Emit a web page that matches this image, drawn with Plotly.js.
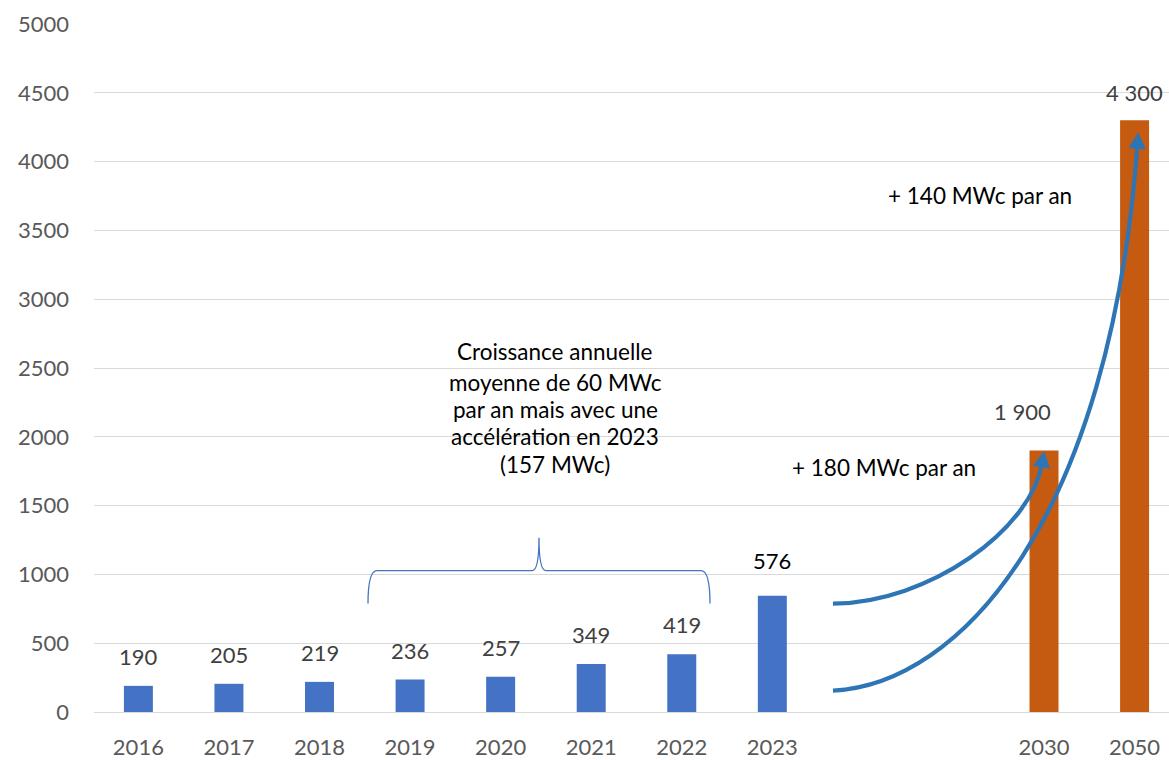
<!DOCTYPE html>
<html>
<head>
<meta charset="utf-8">
<script src="https://cdn.plot.ly/plotly-3.0.1.min.js"></script>
<style>html,body{margin:0;padding:0;background:#fff;}#chart{width:1169px;height:760px;}</style>
</head>
<body>
<div id="chart"></div>
<script>
// ---- data ----
const historicYears = ['2016','2017','2018','2019','2020','2021','2022','2023'];
const historicValues = [190, 205, 219, 236, 257, 349, 419, 845];
const historicLabels = ['190','205','219','236','257','349','419','576'];
const gapSlots = [' ', '  '];
const targetYears = ['2030','2050'];
const targetValues = [1900, 4300];
const targetLabels = ['1 900','4 300'];
const yTicks = [0,500,1000,1500,2000,2500,3000,3500,4000,4500,5000];
const noteLines = ['Croissance annuelle','moyenne de 60 MWc','par an mais avec une','accélération en 2023','(157 MWc)'];
const growth2030 = '+ 180 MWc par an';
const growth2050 = '+ 140 MWc par an';

// ---- layout geometry ----
const M = {l:94, r:0, t:24, b:47.5};
const W = 1169 - M.l - M.r, H = 760 - M.t - M.b;
const XR = [-0.49, 11.38], YR = [0, 5000];
const allCats = historicYears.concat(gapSlots, targetYears);
const FONT = 'Lato, "Open Sans", sans-serif';

// screen pixel -> paper
function P(X, Y){ return [(X - M.l) / W, (M.t + H - Y) / H]; }
function ps(X, Y){ const p = P(X, Y); return p[0].toFixed(5) + ',' + p[1].toFixed(5); }
// data (category index, value) -> screen pixel
function D(xi, v){ return [M.l + (xi - XR[0]) / (XR[1] - XR[0]) * W, M.t + H - (v - YR[0]) / (YR[1] - YR[0]) * H]; }

const traces = [
  {type:'bar', x: historicYears, y: historicValues, width:0.32, marker:{color:'#4472C4'}, hoverinfo:'skip'},
  {type:'bar', x: targetYears, y: targetValues, width:0.32, marker:{color:'#C55A11'}, hoverinfo:'skip'}
];

const annotations = [];
const shapes = [];

// data labels (category axis annotations take the category's serial number)
const histShift = [14,14,14,14,14,14,14,20];
historicYears.forEach((c, i) => {
  annotations.push({x: allCats.indexOf(c), y: historicValues[i], xref:'x', yref:'y', text: historicLabels[i], showarrow:false,
    yanchor:'bottom', yshift: histShift[i], font:{family:FONT, size:22, color: i === 7 ? '#000000' : '#404040'}});
});
const tgtShift = [[-22, 24], [0, 12]];
targetYears.forEach((c, i) => {
  annotations.push({x: allCats.indexOf(c), y: targetValues[i], xref:'x', yref:'y', text: targetLabels[i], showarrow:false,
    yanchor:'bottom', xshift: tgtShift[i][0], yshift: tgtShift[i][1], font:{family:FONT, size:22, color:'#404040'}});
});

// white box behind the 2030 label (hides the gridline)
[[976, 392, 1089, 442]].forEach(b => {
  const a = P(b[0], b[1]), c = P(b[2], b[3]);
  shapes.push({type:'rect', xref:'paper', yref:'paper', x0:a[0], y0:a[1], x1:c[0], y1:c[1], fillcolor:'#ffffff', line:{width:0}, layer:'between'});
});

// note text lines
const NOTE = 22.5;
const noteY = [352, 383, 410, 437, 465];
noteLines.forEach((t, i) => {
  const p = P(555, noteY[i]);
  annotations.push({x: p[0], y: p[1], xref:'paper', yref:'paper', text: t, showarrow:false, xanchor:'center', yanchor:'middle',
    font:{family:FONT, size:NOTE, color:'#000000'}});
});
{
  const p = P(980, 196);
  annotations.push({x:p[0], y:p[1], xref:'paper', yref:'paper', text: growth2050, showarrow:false, xanchor:'center', yanchor:'middle', font:{family:FONT, size:NOTE, color:'#000000'}});
  const q = P(884, 468);
  annotations.push({x:q[0], y:q[1], xref:'paper', yref:'paper', text: growth2030, showarrow:false, xanchor:'center', yanchor:'middle', font:{family:FONT, size:NOTE, color:'#000000'}});
}

// brace
shapes.push({type:'path', xref:'paper', yref:'paper', layer:'above',
  path: 'M' + ps(368,604) + ' Q' + ps(368,571) + ' ' + ps(377,571) + ' L' + ps(532,571) + ' Q' + ps(539,571) + ' ' + ps(539,538) +
        ' Q' + ps(539,571) + ' ' + ps(546,571) + ' L' + ps(701,571) + ' Q' + ps(710,571) + ' ' + ps(710,604),
  line:{color:'#4472C4', width:1.3}});

// curved arrows
function curvedArrow(s, c1, c2, tipIdx, tipVal){
  const S = D(s[0], s[1]), C1 = D(c1[0], c1[1]), C2 = D(c2[0], c2[1]), T = D(tipIdx, tipVal);
  let dx = T[0] - C2[0], dy = T[1] - C2[1];
  const L = Math.hypot(dx, dy); dx /= L; dy /= L;
  const hl = 15, hw = 8;
  const B = [T[0] - dx * hl, T[1] - dy * hl];
  const E = [B[0] + dx * 3, B[1] + dy * 3];
  shapes.push({type:'path', xref:'paper', yref:'paper', layer:'above',
    path: 'M' + ps(S[0], S[1]) + ' C' + ps(C1[0], C1[1]) + ' ' + ps(C2[0], C2[1]) + ' ' + ps(E[0], E[1]),
    line:{color:'#2E75B6', width:4.2}});
  const nx = -dy, ny = dx;
  shapes.push({type:'path', xref:'paper', yref:'paper', layer:'above',
    path: 'M' + ps(T[0], T[1]) + ' L' + ps(B[0] + nx * hw, B[1] + ny * hw) + ' L' + ps(B[0] - nx * hw, B[1] - ny * hw) + ' Z',
    fillcolor:'#2E75B6', line:{color:'#2E75B6', width:1}});
}
curvedArrow([7.67, 156], [9.07, 200], [10.73, 1397], 11.04, 4206);
curvedArrow([7.67, 787], [8.74, 795], [9.85, 1324], 10.0, 1890);

const layout = {
  width:1169, height:760,
  margin:{l:M.l, r:M.r, t:M.t, b:M.b, pad:0},
  paper_bgcolor:'#ffffff', plot_bgcolor:'#ffffff',
  showlegend:false, barmode:'overlay',
  font:{family:FONT, color:'#595959'},
  xaxis:{type:'category', categoryorder:'array', categoryarray: allCats, range: XR, showgrid:false, zeroline:false,
    showline:false, ticks:'', ticklabelstandoff:20, tickfont:{family:FONT, size:22, color:'#595959'}, fixedrange:true},
  yaxis:{range: YR, tickvals: yTicks, ticktext: yTicks.map(String), showgrid:true, gridcolor:'#d9d9d9', gridwidth:1,
    zeroline:true, zerolinecolor:'#d9d9d9', zerolinewidth:1, showline:false, ticks:'', ticklabelstandoff:24,
    tickfont:{family:FONT, size:22, color:'#595959'}, fixedrange:true},
  shapes: shapes,
  annotations: annotations
};

Plotly.newPlot('chart', traces, layout, {staticPlot:true, displayModeBar:false});
</script>
</body>
</html>
